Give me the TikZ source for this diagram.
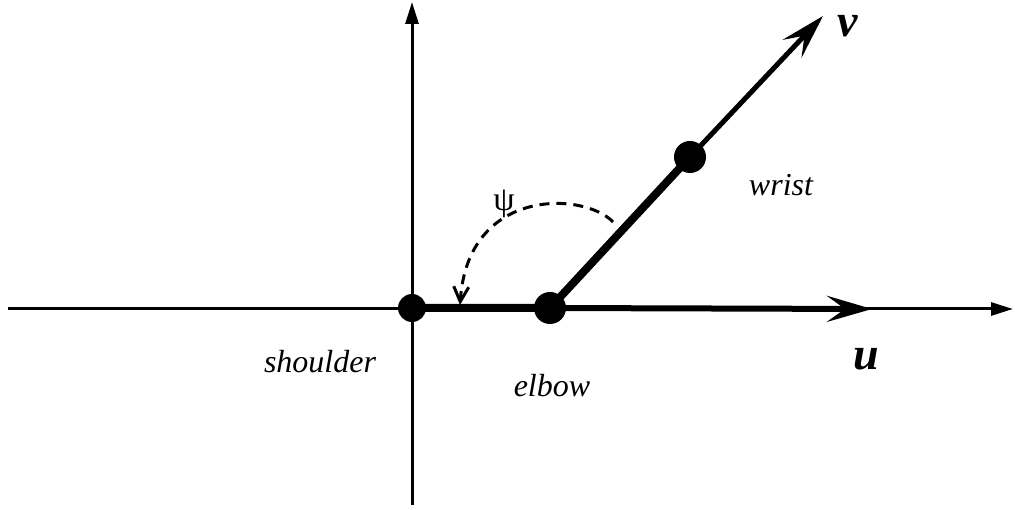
\documentclass[tikz,border=0pt]{standalone}
\usepackage{fontspec}
\setmainfont{Liberation Serif}
\usetikzlibrary{arrows.meta}
\begin{document}
\begin{tikzpicture}[x=1pt,y=-1pt,
  dot/.style={circle,fill=black,inner sep=0pt},
  axisline/.style={line width=3pt,-{Triangle[length=22pt,width=13pt]}},
  limb/.style={line width=8pt},
  lbl/.style={font=\fontsize{32}{36}\selectfont\itshape,anchor=base,inner sep=0pt},
  vec/.style={font=\fontsize{46}{50}\selectfont\bfseries\itshape,anchor=base,inner sep=0pt},
  bigtip/.style={-{Stealth[length=45pt,width=26pt,inset=18pt]}}]
\useasboundingbox (0,0) rectangle (1015,510);
% axes
\coordinate (xl) at (8,309);
\coordinate (xr) at (1013,309);
\coordinate (yb) at (412,505);
\coordinate (yt) at (412,2);
\draw[axisline] (xl) -- (xr);
\draw[axisline] (yb) -- (yt);
% joints
\node[dot,minimum size=28pt] (shoulder) at (412,308) {};
\node[dot,minimum size=32pt] (elbow) at (550,308) {};
\node[dot,minimum size=32pt] (wrist) at (690,157) {};
\coordinate (utip) at (872,309);
\coordinate (vtip) at (823,16);
% limbs
\draw[limb] (shoulder.center) -- (elbow.center) -- (wrist.center);
\draw[line width=5pt,bigtip] (wrist.center) -- (vtip);
\draw[line width=6pt,bigtip] (elbow.center) -- (utip);
% angle
\coordinate (arcs) at (613,222);
\coordinate (arce) at (460,305);
\draw[line width=3pt,dash pattern=on 10pt off 7pt,-{Straight Barb[length=15pt,width=15pt]}]
  (arcs) .. controls (585,192) and (468,186) .. (arce);
% labels
\node[lbl] (shoulderlbl) at (320,373) {shoulder};
\node[lbl] (elbowlbl) at (552,397) {elbow};
\node[lbl] (wristlbl) at (781,196) {wrist};
\node[vec] (ulbl) at (866,370) {u};
\node[vec] (vlbl) at (848,37) {v};
\node[font=\fontsize{34}{36}\selectfont,inner sep=0pt] (psi) at (504,204) {ψ};
\end{tikzpicture}
\end{document}
